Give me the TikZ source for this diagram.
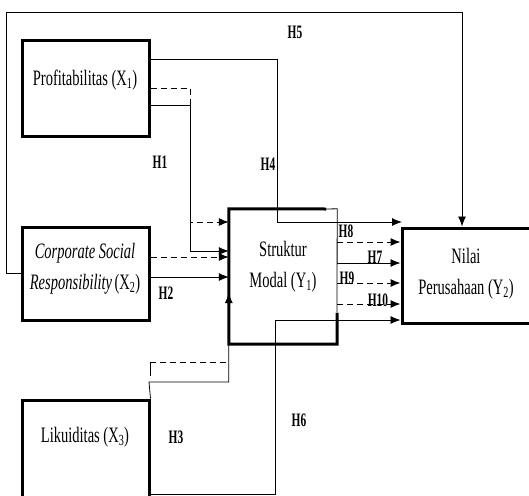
\documentclass[tikz,border=0pt]{standalone}
\usepackage{fontspec}
\setmainfont{Liberation Serif}
\usepackage{graphicx}
\usetikzlibrary{arrows.meta,calc}
\newcommand\cx[1]{\scalebox{0.66}[1]{#1}}
\newcommand\hlab[1]{\scalebox{0.6}[1]{\bfseries #1}}
\begin{document}
\begin{tikzpicture}[x=1pt,y=-1pt,
  ln/.style={line width=0.8pt},
  dl/.style={line width=1pt,dash pattern=on 6pt off 4pt},
  arr/.style={-{Latex[length=10pt,width=8pt]}},
  box/.style={draw,line width=3pt,inner sep=0pt},
  txt/.style={font=\fontsize{22}{31}\selectfont,align=center,inner sep=0pt},
  hl/.style={font=\fontsize{19}{20}\selectfont,inner sep=0pt}]
\useasboundingbox (0,0) rectangle (529,495);

% boxes
\node[box,minimum width=127pt,minimum height=95pt] (p) at (85.5,88.5) {};
\node[box,minimum width=127pt,minimum height=93pt] (c) at (85.5,273.5) {};
\node[box,minimum width=127pt,minimum height=97pt] (l) at (85.5,448.5) {};
\node[inner sep=0pt,minimum width=108pt,minimum height=135pt] (s) at (283,276.5) {};
\node[box,minimum width=134pt,minimum height=95pt] (n) at (469,275.5) {};
\draw[line width=3pt] (326,209) -- (s.north west) -- (s.south west) -- (s.south east) -- (337,313);
\draw[ln] (326,209) -- (s.north east) -- (337,313);

% texts
\node[txt] (pt) at (85,80) {\cx{Profitabilitas (X\textsubscript{1})}};
\node[txt] (ct) at (85,269) {\cx{\itshape Corporate Social}\\\cx{\itshape Responsibility\,\upshape(X\textsubscript{2})}};
\node[txt] (lt) at (85,437) {\cx{Likuiditas (X\textsubscript{3})}};
\node[txt] (st) at (283,267) {\cx{Struktur}\\\cx{Modal (Y\textsubscript{1})}};
\node[txt] (nt) at (466,274) {\cx{Nilai}\\\cx{Perusahaan (Y\textsubscript{2})}};

% helper coordinates
\coordinate (k5) at (462,12);
\coordinate (k4) at (277,59);
\coordinate (e8) at (402,222);
\coordinate (k1d) at (190,88);
\coordinate (k1) at (190,105);
\coordinate (y251) at (0,251);
\coordinate (y257) at (0,257);
\coordinate (y277) at (0,277);
\coordinate (k3) at (149,382);
\coordinate (y293) at (0,293);
\coordinate (k3d) at (150,362);
\coordinate (k3e) at (150,376);
\coordinate (k6) at (275,494);
\coordinate (y320) at (0,320);
\coordinate (y242) at (0,242);
\coordinate (y263) at (0,263);
\coordinate (y283) at (0,283);
\coordinate (y304) at (0,304);

% connectors
\draw[ln,arr] (c.west) -- ++(-14,0) |- (k5) -- (k5 |- n.north);
\draw[ln,arr] (p.east |- k4) -- (k4) |- (e8);
\draw[dl,arr] (p.east |- k1d) -- (k1d) |- (s.west |- e8);
\draw[ln,arr] (p.east |- k1) -- (k1) |- (s.west |- y251);
\draw[dl,arr] (c.east |- y257) -- (s.west |- y257);
\draw[ln,arr] (c.east |- y277) -- (s.west |- y277);
\draw[ln,arr] (l.north east) -- (k3) -| (s.west |- y293);
\draw[dl] (k3d) -- (s.west |- k3d);
\draw[ln] (k3e) -- (k3d);
\draw[ln,arr] (l.east |- k6) -- (k6) |- (n.west |- y320);
\draw[dl,arr] (s.east |- y242) -- (n.west |- y242);
\draw[ln,arr] (s.east |- y263) -- (n.west |- y263);
\draw[dl,arr] (s.east |- y283) -- (n.west |- y283);
\draw[dl,arr] (s.east |- y304) -- (n.west |- y304);

% labels
\node[hl] (h5) at (295,32) {\hlab{H5}};
\node[hl] (h4) at (268,164) {\hlab{H4}};
\node[hl] (h1) at (160,162) {\hlab{H1}};
\node[hl] (h2) at (166,293) {\hlab{H2}};
\node[hl] (h3) at (176,437) {\hlab{H3}};
\node[hl] (h6) at (299,420) {\hlab{H6}};
\node[hl] (h8) at (346,231) {\hlab{H8}};
\node[hl] (h7) at (375,257) {\hlab{H7}};
\node[hl] (h9) at (347,278) {\hlab{H9}};
\node[hl] (h10) at (378,300) {\hlab{H10}};
\end{tikzpicture}
\end{document}
